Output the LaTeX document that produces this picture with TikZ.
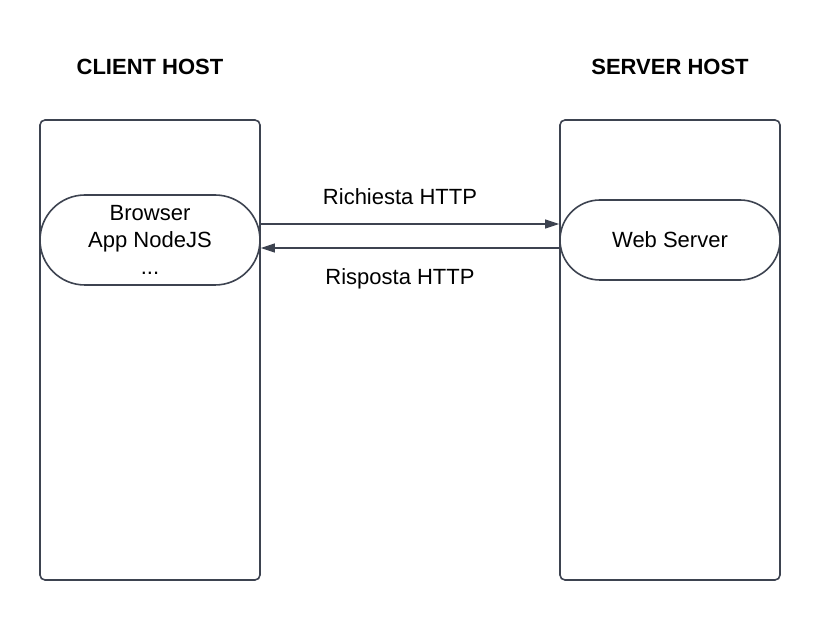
\documentclass[tikz,border=0pt]{standalone}
\usepackage{fontspec}
\setmainfont{Liberation Sans}
\usetikzlibrary{arrows.meta, positioning}
\definecolor{edgegray}{HTML}{3D4350}
\newcommand{\diagfont}{\fontsize{22}{27}\selectfont}
\tikzset{
    host/.style={rectangle, draw=edgegray, line width=1.6pt, rounded corners=5pt, minimum width=220pt, minimum height=460pt},
    proc/.style={rectangle, draw=edgegray, fill=white, line width=1.6pt, minimum width=220pt, align=center, font=\diagfont},
    hosttitle/.style={anchor=base, font=\diagfont\bfseries},
    msg/.style={-{Triangle[length=14pt, width=9pt]}, draw=edgegray, line width=1.2pt},
}

\begin{document}
\begin{tikzpicture}[x=1pt, y=-1pt, font=\diagfont]
    \useasboundingbox (0,0) rectangle (820,620);
    \node[host] (client) at (150,350) {};
    \node[host] (server) at (670,350) {};
    \node[hosttitle] (ctitle) at (150,75) {CLIENT HOST};
    \node[hosttitle] (stitle) at (670,75) {SERVER HOST};
    \node[proc, minimum height=90pt, rounded corners=45pt] (browser) at (150,240) {Browser\\App NodeJS\\...};
    \node[proc, minimum height=80pt, rounded corners=40pt] (web) at (670,240) {Web Server};
    \draw[msg] ([yshift=16pt]browser.east) -- node[above=15pt, xshift=-10pt] (req) {Richiesta HTTP} ([yshift=16pt]web.west);
    \draw[msg] ([yshift=-8pt]web.west) -- node[below=17pt, xshift=-10pt] (resp) {Risposta HTTP} ([yshift=-8pt]browser.east);
\end{tikzpicture}
\end{document}
